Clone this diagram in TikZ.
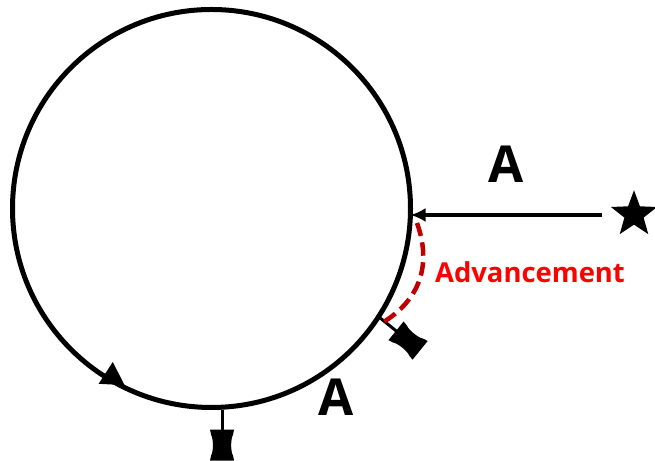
\documentclass[tikz,border=0pt]{standalone}
\usepackage{fontspec}
\setsansfont{Open Sans}
\usetikzlibrary{shapes.geometric, arrows.meta, positioning, calc}

\begin{document}
\begin{tikzpicture}[
    ring/.style={draw, circle, line width=0.1cm, minimum size=7.96cm, inner sep=0pt},
    arrow/.style={-{Latex[length=0.3cm, width=0.28cm]}, line width=0.085cm, shorten >=-0.05cm},
    lbl/.style={font=\sffamily\bfseries\fontsize{29}{29}\selectfont},
    advlbl/.style={font=\sffamily\bfseries\fontsize{15.6}{16}\selectfont, text=red},
    advarc/.style={draw=advred, line width=0.09cm, dash pattern=on 0.27cm off 0.13cm},
    goal/.style={star, star points=5, star point ratio=2.4, fill=black, minimum size=0.97cm, inner sep=0pt},
    dirmark/.style={regular polygon, regular polygon sides=3, fill=black, minimum size=0.6cm, inner sep=0pt},
    probe/.pic={
        \draw[line width=0.06cm] (0,0) -- (0,-0.42);
        \fill (-0.24,-0.40) -- (0.24,-0.40) -- (0.22,-0.50) .. controls (0.17,-0.58) and (0.17,-0.84) .. (0.22,-0.92) -- (0.24,-1.02) -- (-0.24,-1.02) -- (-0.22,-0.92) .. controls (-0.17,-0.84) and (-0.17,-0.58) .. (-0.22,-0.50) -- cycle;
    }
]
    \definecolor{advred}{HTML}{C00000}
    \useasboundingbox (0,0) rectangle (13.1,9.22);

    \node[ring] (orbit) at (4.23,5.05) {};
    \node[goal] (target) at (12.68,4.93) {};
    \node[dirmark, rotate=-3] (dir) at (2.24,1.68) {};
    \coordinate (start) at (12.04,4.92);

    \draw[arrow] (start) -- (start -| orbit.east);

    \pic at (orbit.-87.6) {probe};
    \pic[rotate=51] at (orbit.-33.2) {probe};

    \coordinate (arcstart) at (8.34,4.76);
    \coordinate (arcend) at (7.64,2.76);
    \draw[advarc] (arcstart) .. controls (8.64,3.92) and (8.40,3.22) .. (arcend);

    \node[lbl] (adist) at (10.12,5.94) {A};
    \node[lbl] (aarc) at (6.72,1.28) {A};
    \node[advlbl] (adv) at (10.6,3.78) {Advancement};
\end{tikzpicture}
\end{document}
